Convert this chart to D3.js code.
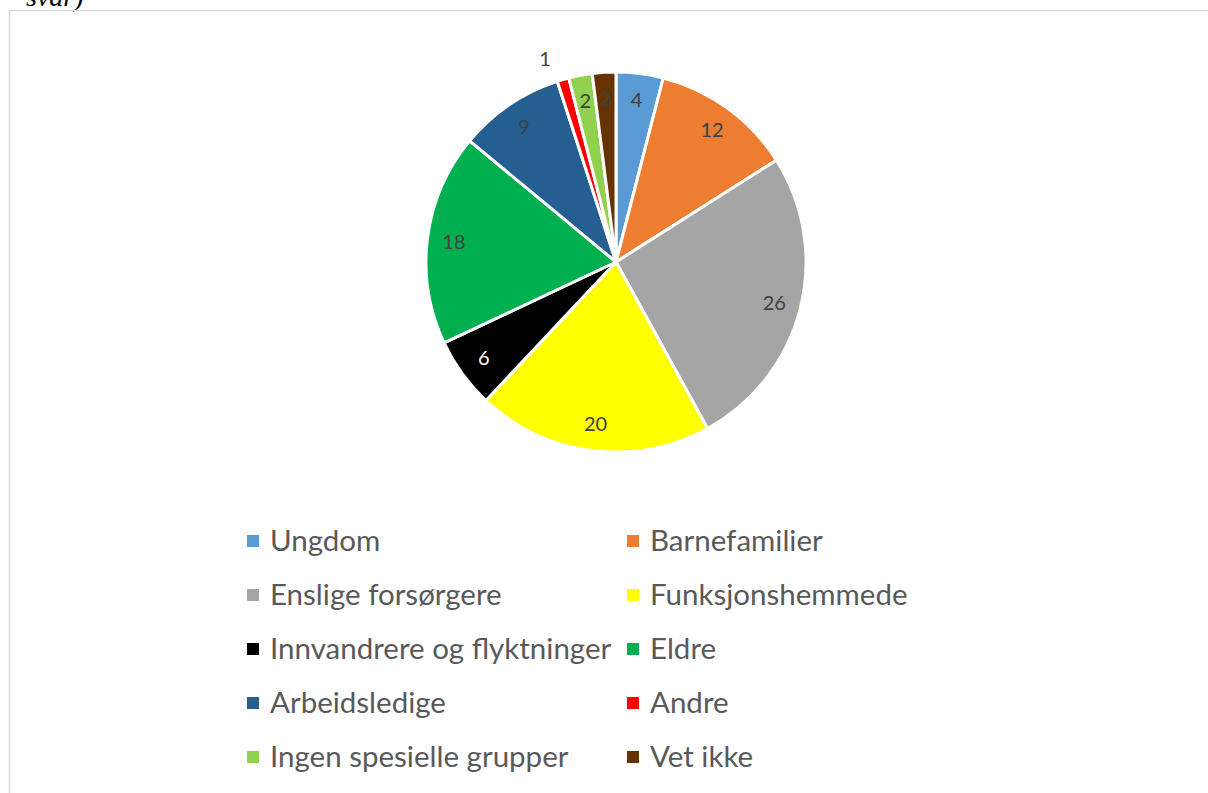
<!DOCTYPE html>
<html>
<head>
<meta charset="utf-8">
<script src="https://cdn.jsdelivr.net/npm/d3@7"></script>
<style>
	body { margin: 0; background: #fff; }
	svg { display: block; }
</style>
</head>
<body>
<svg id="chart" width="1208" height="793"></svg>
<script>
	var categories = ["Ungdom", "Barnefamilier", "Enslige forsørgere", "Funksjonshemmede",
		"Innvandrere og flyktninger", "Eldre", "Arbeidsledige", "Andre",
		"Ingen spesielle grupper", "Vet ikke"];
	var values = [4, 12, 26, 20, 6, 18, 9, 1, 2, 2];
	var colors = ["#5B9BD5", "#ED7D31", "#A5A5A5", "#FFFF00", "#000000",
		"#00B050", "#255E91", "#FF0000", "#92D050", "#663300"];

	var svg = d3.select("#chart");
	var cx = 616, cy = 262, radius = 190;

	// caption of the figure, cut off by the top of the page
	svg.append("text")
		.attr("x", 26).attr("y", 6)
		.style("font-family", "Liberation Serif, Times New Roman, serif")
		.style("font-style", "italic")
		.style("font-size", "28px")
		.attr("fill", "#000")
		.text("svar)");

	// chart frame
	svg.append("rect")
		.attr("x", 9.5).attr("y", 10.5)
		.attr("width", 1220).attr("height", 800)
		.attr("fill", "none")
		.attr("stroke", "#d9d9d9")
		.attr("stroke-width", 1.5);

	var data = categories.map(function(c, i) {
		return {name: c, value: values[i], color: colors[i]};
	});

	var pie = d3.pie().sort(null).value(function(d) { return d.value; });
	var arc = d3.arc().innerRadius(0).outerRadius(radius);
	var labelArc = d3.arc().innerRadius(radius * 0.86).outerRadius(radius * 0.86);
	var outerArc = d3.arc().innerRadius(radius * 1.15).outerRadius(radius * 1.15);

	var g = svg.append("g").attr("transform", "translate(" + cx + "," + cy + ")");
	var arcs = pie(data);

	g.selectAll("path.slice")
		.data(arcs)
		.enter().append("path")
		.attr("class", "slice")
		.attr("d", arc)
		.attr("fill", function(d) { return d.data.color; })
		.attr("stroke", "#fff")
		.attr("stroke-width", 3)
		.attr("stroke-linejoin", "round");

	//  tiny slices get their label outside (best fit)
	g.selectAll("text.value")
		.data(arcs)
		.enter().append("text")
		.attr("class", "value")
		.attr("transform", function(d) {
			if (d.data.value < 2) {
				var p = outerArc.centroid(d);
				return "translate(" + (p[0] - 10) + "," + (p[1] + 7) + ")";
			}
			return "translate(" + labelArc.centroid(d) + ")";
		})
		.attr("text-anchor", "middle")
		.attr("dy", "0.35em")
		.style("font-family", "Lato, Open Sans, sans-serif")
		.style("font-size", "20px")
		.attr("fill", function(d) { return d.data.color === "#000000" ? "#fff" : "#404040"; })
		.text(function(d) { return d.data.value; });

	// legend, two columns
	var legendCols = [247, 627], legendTop = 541, rowStep = 54;
	var legend = svg.selectAll("g.legend")
		.data(data)
		.enter().append("g")
		.attr("class", "legend")
		.attr("transform", function(d, i) {
			return "translate(" + legendCols[i % 2] + "," + (legendTop + Math.floor(i / 2) * rowStep) + ")";
		});
	legend.append("rect")
		.attr("x", 0).attr("y", -6)
		.attr("width", 12).attr("height", 12)
		.attr("fill", function(d) { return d.color; });
	legend.append("text")
		.attr("x", 23).attr("dy", "0.35em")
		.style("font-family", "Lato, Open Sans, sans-serif")
		.style("font-size", "29.5px")
		.attr("fill", "#595959")
		.text(function(d) { return d.name; });
</script>
</body>
</html>
